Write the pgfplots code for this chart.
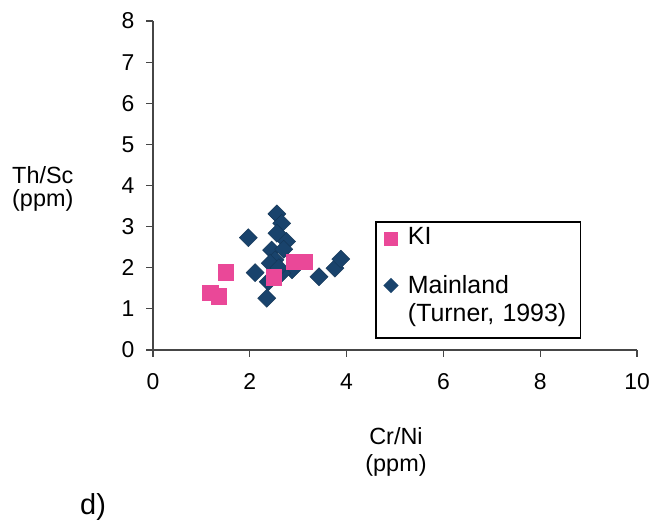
\documentclass[border=0pt]{standalone}
\usepackage{pgfplots}
\pgfplotsset{compat=1.18}
\usepackage{fontspec}
\setmainfont{Liberation Sans}
\definecolor{kipink}{RGB}{234,72,152}
\definecolor{mainblue}{RGB}{25,67,108}
\definecolor{axisgrey}{RGB}{70,70,70}

\begin{document}
\begin{tikzpicture}[x=1bp,y=1bp]
\useasboundingbox (-153,-178) rectangle (501,350);
\begin{axis}[
  at={(0,0)}, anchor=origin,
  scale only axis, width=484bp, height=329bp,
  xmin=0, xmax=10, ymin=0, ymax=8,
  xtick={0,2,...,10}, ytick={0,1,...,8},
  axis x line=bottom, axis y line=left,
  axis line style={-, axisgrey, line width=1.2bp},
  tick style={axisgrey, line width=1.2bp},
  tick align=outside, major tick length=7bp,
  ticklabel style={font=\fontsize{23}{27}\selectfont},
  xticklabel style={yshift=-13bp},
  yticklabel style={xshift=-8bp},
  /pgf/number format/assume math mode=true,
  clip=false,
  legend style={at={(rel axis cs:0.459,0.392)}, anchor=north west,
    draw=black, line width=1.6bp, font=\fontsize{25}{29}\selectfont,
    inner xsep=6.5bp, inner ysep=3bp, row sep=4bp, column sep=8.5bp,
    cells={anchor=west, inner sep=0pt, text height=18bp, text depth=5bp}},
]
% Mainland samples (Turner, 1993)
\addplot[only marks, mark=square*, mark size=6.4bp, mark options={rotate=45, fill=mainblue, draw=mainblue!80!black}, forget plot]
  coordinates {
  (1.97,2.73) (2.56,3.31) (2.66,3.08) (2.56,2.84) (2.76,2.64)
  (2.45,2.43) (2.52,2.19) (2.42,2.11) (2.11,1.88) (2.87,1.95)
  (2.66,1.87) (2.38,1.66) (2.35,1.26) (3.43,1.78) (3.76,1.99)
  (3.88,2.21) (2.60,2.00) (2.70,2.45)
  };
% KI samples
\addplot[only marks, mark=square*, mark size=7.6bp, mark options={fill=kipink, draw=kipink}, forget plot]
  coordinates {
  (1.51,1.89) (1.18,1.40) (1.35,1.31) (2.50,1.77) (2.90,2.15) (3.14,2.15)
  };
\addlegendimage{only marks, mark=square*, mark size=6.3bp, mark options={fill=kipink, draw=kipink, yshift=8bp}}
\addlegendentry[text depth=23bp]{KI}
\addlegendimage{only marks, mark=square*, mark size=4.6bp, mark options={rotate=45, fill=mainblue, draw=mainblue}}
\addlegendentry{Mainland}
\addlegendimage{empty legend}
\addlegendentry[text depth=12bp, text width=164bp]{(Turner, 1993)}
\end{axis}
\begin{scope}[font=\fontsize{23.5}{27}\selectfont]
\node[anchor=base west, inner sep=0] at (-141,166) {Th/Sc};
\node[anchor=base west, inner sep=0] at (-141,143) {(ppm)};
\node[anchor=base, inner sep=0] at (243,-95) {Cr/Ni};
\begin{scope}
\clip (150,-126) rectangle (340,-90);
\node[anchor=base, inner sep=0] at (243,-122) {(ppm)};
\end{scope}
\end{scope}
\node[anchor=base west, inner sep=0, font=\fontsize{29}{33}\selectfont] at (-73,-165) {d)};
\end{tikzpicture}
\end{document}
